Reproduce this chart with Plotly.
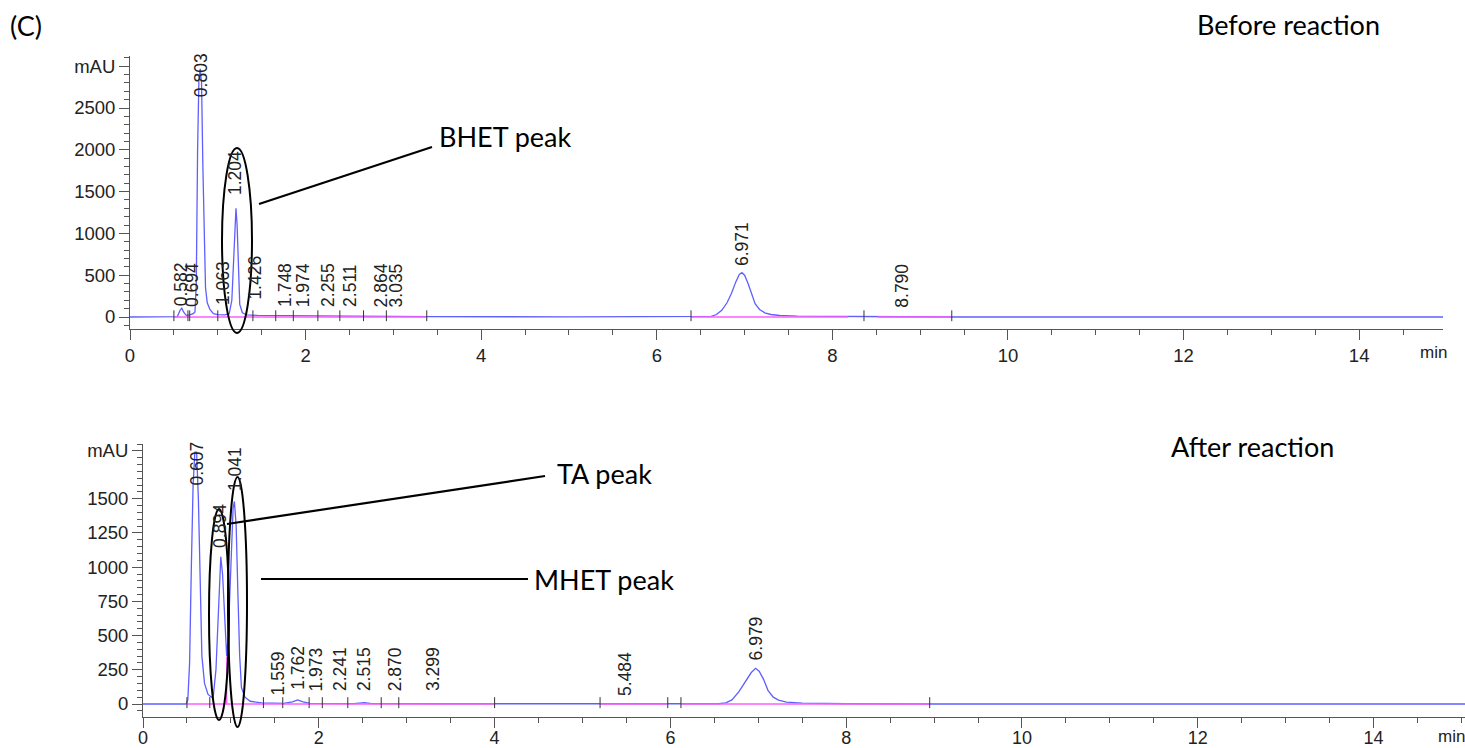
import plotly.graph_objects as go

# ---------------- data ----------------
# Before reaction chromatogram (time in min, signal in mAU)
top_t = [0.00, 0.50, 0.54, 0.57, 0.59, 0.61, 0.64, 0.68, 0.72, 0.74, 0.755, 0.77, 0.785, 0.80,
         0.815, 0.83, 0.845, 0.86, 0.88, 0.91, 0.95, 1.00, 1.08, 1.13, 1.16, 1.18, 1.195, 1.207,
         1.22, 1.235, 1.25, 1.28, 1.33, 1.45, 1.80, 2.50, 3.00, 3.40, 5.00, 6.40, 6.55, 6.62,
         6.68, 6.74, 6.80, 6.85, 6.90, 6.94, 6.97, 7.00, 7.04, 7.08, 7.12, 7.17, 7.23, 7.30,
         7.40, 7.60, 8.00, 8.20, 8.79, 9.50, 15.0]
top_mau = [0, 0, 5, 80, 105, 60, 20, 25, 40, 60, 400, 2000, 2850, 2970,
           2800, 1800, 800, 350, 170, 90, 40, 28, 25, 40, 200, 700, 1200, 1300,
           1100, 500, 150, 50, 25, 20, 15, 10, 8, 5, 2, 2, 3, 8,
           30, 80, 170, 280, 420, 510, 530, 500, 400, 270, 160, 90, 50, 30,
           18, 10, 5, 3, 3, 0, 0]

# After reaction chromatogram
bot_t = [0.00, 0.49, 0.51, 0.53, 0.55, 0.57, 0.59, 0.61, 0.63, 0.65, 0.67, 0.70, 0.74, 0.78,
         0.80, 0.83, 0.86, 0.885, 0.905, 0.93, 0.952, 0.97, 1.00, 1.025, 1.04, 1.06, 1.08,
         1.10, 1.12, 1.16, 1.22, 1.35, 1.60, 1.70, 1.76, 1.82, 1.90, 2.40, 2.52, 2.60, 3.50,
         5.00, 6.55, 6.63, 6.70, 6.78, 6.85, 6.92, 6.97, 7.01, 7.06, 7.11, 7.17, 7.23, 7.32,
         7.50, 8.00, 9.00, 15.1]
bot_mau = [0, 0, 30, 300, 1000, 1600, 1840, 1840, 1500, 800, 350, 150, 70, 50,
           60, 250, 750, 1075, 950, 600, 350, 500, 1100, 1430, 1480, 1300, 800,
           350, 120, 50, 20, 8, 5, 15, 30, 15, 5, 3, 10, 3, 2,
           0, 2, 8, 30, 90, 160, 230, 261, 240, 180, 100, 50, 28, 14,
           6, 2, 0, 0]

# Peak retention-time labels
top_label_text = ['0.582', '0.694', '0.803', '1.063', '1.204', '1.426', '1.748', '1.974',
                  '2.255', '2.511', '2.864', '3.035', '6.971', '8.790']
top_label_x = [0.575, 0.700, 0.803, 1.060, 1.196, 1.420, 1.765, 1.974, 2.255, 2.511, 2.864,
               3.035, 6.971, 8.790]
top_label_y = [110, 100, 2600, 120, 1435, 180, 96, 96, 96, 96, 96, 96, 586, 84]

bot_label_text = ['0.607', '0.894', '1.041', '1.559', '1.762', '1.973', '2.241', '2.515',
                  '2.870', '3.299', '5.484', '6.979']
bot_label_x = [0.610, 0.876, 1.047, 1.540, 1.762, 1.973, 2.241, 2.515, 2.870, 3.299, 5.484, 6.979]
bot_label_y = [1579, 1126, 1542, 51, 88, 80, 80, 80, 80, 80, 44, 307]

# Integration baselines (start, end) and event tick times
top_base_start = [0.50, 6.39, 8.52]
top_base_end = [3.38, 8.18, 9.36]
top_event_t = [0.50, 0.66, 0.68, 1.00, 1.40, 1.66, 1.86, 2.14, 2.39, 2.66, 2.92, 3.38,
               6.39, 8.36, 9.36]

bot_base_start = [0.50, 5.20, 6.12]
bot_base_end = [4.00, 5.97, 8.95]
bot_drop_t = [0.952]
bot_drop_mau = [346]
bot_event_t = [0.50, 0.76, 1.37, 1.59, 1.89, 2.04, 2.33, 2.71, 2.91, 4.00, 5.20, 5.97,
               6.12, 8.95]

top_yticks = [0, 500, 1000, 1500, 2000, 2500, 3000]
top_yticktext = ['0', '500', '1000', '1500', '2000', '2500', 'mAU']
bot_yticks = [0, 250, 500, 750, 1000, 1250, 1500, 1850]
bot_yticktext = ['0', '250', '500', '750', '1000', '1250', '1500', 'mAU']

# ---------------- figure ----------------
W, H = 1465, 748
BLUE = '#5f5fff'
MAG = '#ff5cff'
AXC = '#555555'
TXT = '#222222'
FONT = 'Liberation Sans'
NOTE_FONT = 'Lato'


def px(x):
    return x / W


def py(y):
    return 1 - y / H


fig = go.Figure()

# signal traces
fig.add_trace(go.Scatter(x=top_t, y=top_mau, mode='lines', line=dict(color=BLUE, width=1.3),
                         xaxis='x', yaxis='y', hoverinfo='skip'))
fig.add_trace(go.Scatter(x=bot_t, y=bot_mau, mode='lines', line=dict(color=BLUE, width=1.3),
                         xaxis='x2', yaxis='y2', hoverinfo='skip'))


def segs(starts, ends, level=0):
    xs, ys = [], []
    for s, e in zip(starts, ends):
        xs += [s, e, None]
        ys += [level, level, None]
    return xs, ys


def ticks(ts, lo, hi):
    xs, ys = [], []
    for t in ts:
        xs += [t, t, None]
        ys += [lo, hi, None]
    return xs, ys


bx, by = segs(top_base_start, top_base_end)
fig.add_trace(go.Scatter(x=bx, y=by, mode='lines', line=dict(color=MAG, width=1.3),
                         xaxis='x', yaxis='y', hoverinfo='skip'))
bx, by = segs(bot_base_start, bot_base_end)
for t, m in zip(bot_drop_t, bot_drop_mau):
    bx += [t, t, None]
    by += [0, m, None]
fig.add_trace(go.Scatter(x=bx, y=by, mode='lines', line=dict(color=MAG, width=1.3),
                         xaxis='x2', yaxis='y2', hoverinfo='skip'))

tx, ty = ticks(top_event_t, -50, 80)
fig.add_trace(go.Scatter(x=tx, y=ty, mode='lines', line=dict(color='#333333', width=1),
                         xaxis='x', yaxis='y', hoverinfo='skip'))
tx, ty = ticks(bot_event_t, -30, 50)
fig.add_trace(go.Scatter(x=tx, y=ty, mode='lines', line=dict(color='#333333', width=1),
                         xaxis='x2', yaxis='y2', hoverinfo='skip'))

annotations = []
for txt, x, y in zip(top_label_text, top_label_x, top_label_y):
    annotations.append(dict(text=txt, x=x, y=y, xref='x', yref='y', textangle=-90,
                            xanchor='center', yanchor='bottom', showarrow=False,
                            font=dict(family=FONT, size=17.5, color=TXT)))
for txt, x, y in zip(bot_label_text, bot_label_x, bot_label_y):
    annotations.append(dict(text=txt, x=x, y=y, xref='x2', yref='y2', textangle=-90,
                            xanchor='center', yanchor='bottom', showarrow=False,
                            font=dict(family=FONT, size=17.5, color=TXT)))

# axis unit "min"
annotations.append(dict(text='min', x=px(1418), y=py(352), xref='paper', yref='paper',
                        xanchor='left', yanchor='middle', showarrow=False,
                        font=dict(family=FONT, size=17, color=TXT)))
annotations.append(dict(text='min', x=px(1436), y=py(736), xref='paper', yref='paper',
                        xanchor='left', yanchor='middle', showarrow=False,
                        font=dict(family=FONT, size=17, color=TXT)))

# notes
notes = [('(C)', 8, 25), ('Before reaction', 1195, 24), ('BHET peak', 437, 137),
         ('After reaction', 1169, 446), ('TA peak', 555, 473), ('MHET peak', 532, 579)]
for txt, x, y in notes:
    annotations.append(dict(text=txt, x=px(x), y=py(y), xref='paper', yref='paper',
                            xanchor='left', yanchor='middle', showarrow=False,
                            font=dict(family=NOTE_FONT, size=27, color='#000000')))

shapes = []
# ellipses (pixel boxes)
for x0, y0, x1, y1 in [(222, 148, 252, 333), (209, 509, 229, 720), (228, 477, 247, 727)]:
    shapes.append(dict(type='circle', xref='paper', yref='paper', x0=px(x0), x1=px(x1),
                       y0=py(y1), y1=py(y0), line=dict(color='#000000', width=2)))
# leader lines
for x0, y0, x1, y1 in [(259, 204, 432, 147), (227, 524, 545, 476), (261, 579, 528, 579)]:
    shapes.append(dict(type='line', xref='paper', yref='paper', x0=px(x0), x1=px(x1),
                       y0=py(y0), y1=py(y1), line=dict(color='#000000', width=2.2)))


def axis_style(size=18.5):
    return dict(showline=True, linecolor=AXC, linewidth=1, ticks='outside', ticklen=10,
                tickcolor=AXC, tickwidth=1, showgrid=False, zeroline=False,
                tickfont=dict(family=FONT, size=size, color=TXT), automargin=False,
                fixedrange=True)


fig.update_layout(
    width=W, height=H, template=None, showlegend=False,
    margin=dict(l=0, r=0, t=0, b=0),
    paper_bgcolor='white', plot_bgcolor='white',
    xaxis=dict(domain=[px(130), px(1443)], range=[0, 14.955], anchor='y', tickmode='linear',
               tick0=0, dtick=2,
               minor=dict(tickmode='linear', tick0=0, dtick=0.5, ticks='outside', ticklen=5,
                          tickcolor=AXC),
               **axis_style()),
    yaxis=dict(domain=[py(329), py(56)], range=[-143.5, 3122], anchor='x', tickmode='array',
               tickvals=top_yticks, ticktext=top_yticktext,
               minor=dict(tickmode='linear', tick0=0, dtick=100, ticks='outside', ticklen=5,
                          tickcolor=AXC),
               **axis_style()),
    xaxis2=dict(domain=[px(143), 1.0], range=[0, 15.04], anchor='y2', tickmode='linear',
                tick0=0, dtick=2, ticklabelstandoff=-6,
                minor=dict(tickmode='linear', tick0=0, dtick=0.5, ticks='outside', ticklen=5,
                           tickcolor=AXC),
                **axis_style(18)),
    yaxis2=dict(domain=[py(717), py(444)], range=[-95, 1900], anchor='x2', tickmode='array',
                tickvals=bot_yticks, ticktext=bot_yticktext,
                minor=dict(tickmode='linear', tick0=0, dtick=50, ticks='outside', ticklen=5,
                           tickcolor=AXC),
                **axis_style()),
    annotations=annotations,
    shapes=shapes,
)

fig.write_html('out.html', config={'displayModeBar': False},
               post_script="document.body.style.margin='0';document.body.style.overflow='hidden';")
